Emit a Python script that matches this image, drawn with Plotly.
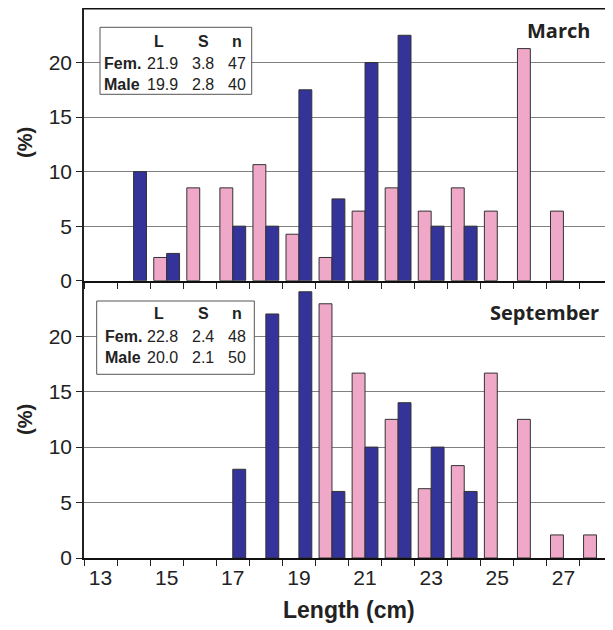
import plotly.graph_objects as go

# ---- data ----
lengths = [str(v) for v in range(13, 29)]
tick_labels = ["13", "", "15", "", "17", "", "19", "", "21", "", "23", "", "25", "", "27", ""]

fem_march = [None, None, 2.13, 8.51, 8.51, 10.64, 4.26, 2.13, 6.38, 8.51, 6.38, 8.51, 6.38, 21.28, 6.38, None]
male_march = [None, 10.0, 2.5, None, 5.0, 5.0, 17.5, 7.5, 20.0, 22.5, 5.0, 5.0, None, None, None, None]
fem_sept = [None, None, None, None, None, None, None, 22.92, 16.67, 12.5, 6.25, 8.33, 16.67, 12.5, 2.08, 2.08]
male_sept = [None, None, None, None, 8.0, 22.0, 24.0, 6.0, 10.0, 14.0, 10.0, 6.0, None, None, None, None]

stat_header = ["L", "S", "n"]
stat_rows = ["Fem.", "Male"]
stats_march = [["21.9", "3.8", "47"], ["19.9", "2.8", "40"]]
stats_sept = [["22.8", "2.4", "48"], ["20.0", "2.1", "50"]]
panel_titles = ["March", "September"]

PINK = "#EFA8C8"
BLUE = "#333399"
EDGE = "#333333"
SANS = "Arial, 'Liberation Sans', sans-serif"

# page has a default 8px body margin, so the figure is drawn 8px in from the top-left
OFF = 8
W, H = 613 - OFF, 630 - OFF
ML, MR, MT, MB = 84 - OFF, 0, 0, 72
PW, PH = W - ML - MR, H - MT - MB


def px(x):  # reference pixel x -> paper
    return (x - OFF - ML) / PW


def py(y):  # reference pixel y -> paper
    return (H - MB - (y - OFF)) / PH


fig = go.Figure()
for vals, color, xa, ya, name in [
    (fem_march, PINK, "x2", "y2", "Fem."),
    (male_march, BLUE, "x2", "y2", "Male"),
    (fem_sept, PINK, "x", "y", "Fem."),
    (male_sept, BLUE, "x", "y", "Male"),
]:
    fig.add_trace(go.Bar(x=lengths, y=vals, xaxis=xa, yaxis=ya, name=name,
                         marker=dict(color=color, line=dict(color=EDGE, width=1)),
                         showlegend=False))

split = py(280.7)
tickfont = dict(family=SANS, size=21, color="#222222")
xcommon = dict(type="category", categoryorder="array", categoryarray=lengths,
               tickmode="array", tickvals=lengths, ticktext=tick_labels,
               tickson="boundaries", ticks="outside", ticklen=6, tickcolor="#222222",
               showgrid=False, showline=True, linecolor="#111111", linewidth=2,
               tickfont=tickfont, range=[-0.5, 15.5], automargin=False)
ycommon = dict(range=[0, 25], tickvals=[0, 5, 10, 15, 20], ticks="outside", ticklen=6,
               tickcolor="#222222", showgrid=True, gridcolor="#808080", gridwidth=1,
               showline=True, linecolor="#222222", linewidth=1.5, zeroline=False,
               tickfont=tickfont, automargin=False)

fig.update_layout(
    width=W, height=H,
    margin=dict(l=ML, r=MR, t=MT, b=MB, pad=0),
    paper_bgcolor="white", plot_bgcolor="white",
    font=dict(family=SANS),
    barmode="group", bargap=0.22, bargroupgap=0,
    xaxis=dict(xcommon, domain=[0, 1], anchor="y"),
    yaxis=dict(ycommon, domain=[0, split], anchor="x"),
    xaxis2=dict(xcommon, domain=[0, 1], anchor="y2", matches="x", showticklabels=False),
    yaxis2=dict(ycommon, domain=[split, 1], anchor="x2"),
)

shapes = [dict(type="line", xref="paper", yref="paper", x0=0, x1=1, y0=0.999, y1=0.999,
               line=dict(color="#111111", width=2))]
annotations = []

# axis titles
for yc in [143, 420]:
    annotations.append(dict(text="<b>(%)</b>", xref="paper", yref="paper", x=px(25), y=py(yc),
                            showarrow=False, textangle=-90, xanchor="center", yanchor="middle",
                            font=dict(family=SANS, size=20, color="#222222")))
annotations.append(dict(text="<b>Length (cm)</b>", xref="paper", yref="paper", x=px(349), y=py(610),
                        showarrow=False, xanchor="center", yanchor="middle",
                        font=dict(family=SANS, size=23, color="#222222")))

# panel titles
for t, xc, yc in [(panel_titles[0], 558, 30), (panel_titles[1], 544, 312)]:
    annotations.append(dict(text="<b>" + t + "</b>", xref="paper", yref="paper", x=px(xc), y=py(yc),
                            showarrow=False, xanchor="center", yanchor="middle",
                            font=dict(family="Open Sans", size=20, color="#222222")))

# stats boxes
boxes = [
    (stats_march, (100, 27.3, 251.7, 94.3), [41.7, 64, 84], 102),
    (stats_sept, (96.7, 301, 254.3, 374.3), [313.3, 336.7, 357.3], 103),
]
col_x = [162, 203, 237]
sfont = dict(family=SANS, size=16, color="#222222")
for stats, (x0, y0, x1, y1), rows_y, lab_x in boxes:
    shapes.append(dict(type="rect", xref="paper", yref="paper", x0=px(x0), x1=px(x1),
                       y0=py(y1), y1=py(y0), fillcolor="white",
                       line=dict(color="#555555", width=1), layer="above"))
    for h, cx in zip(stat_header, col_x):
        annotations.append(dict(text="<b>" + h + "</b>", xref="paper", yref="paper",
                                x=px(cx - 3 if h == "L" else cx), y=py(rows_y[0]), showarrow=False,
                                xanchor="center", yanchor="middle", font=sfont))
    for r, (lab, vals) in enumerate(zip(stat_rows, stats)):
        yy = rows_y[r + 1]
        annotations.append(dict(text="<b>" + lab + "</b>", xref="paper", yref="paper",
                                x=px(lab_x), y=py(yy), showarrow=False,
                                xanchor="left", yanchor="middle", font=sfont))
        for v, cx in zip(vals, col_x):
            annotations.append(dict(text=v, xref="paper", yref="paper", x=px(cx), y=py(yy),
                                    showarrow=False, xanchor="center", yanchor="middle", font=sfont))

fig.update_layout(shapes=shapes, annotations=annotations)
fig.write_html("out.html")
